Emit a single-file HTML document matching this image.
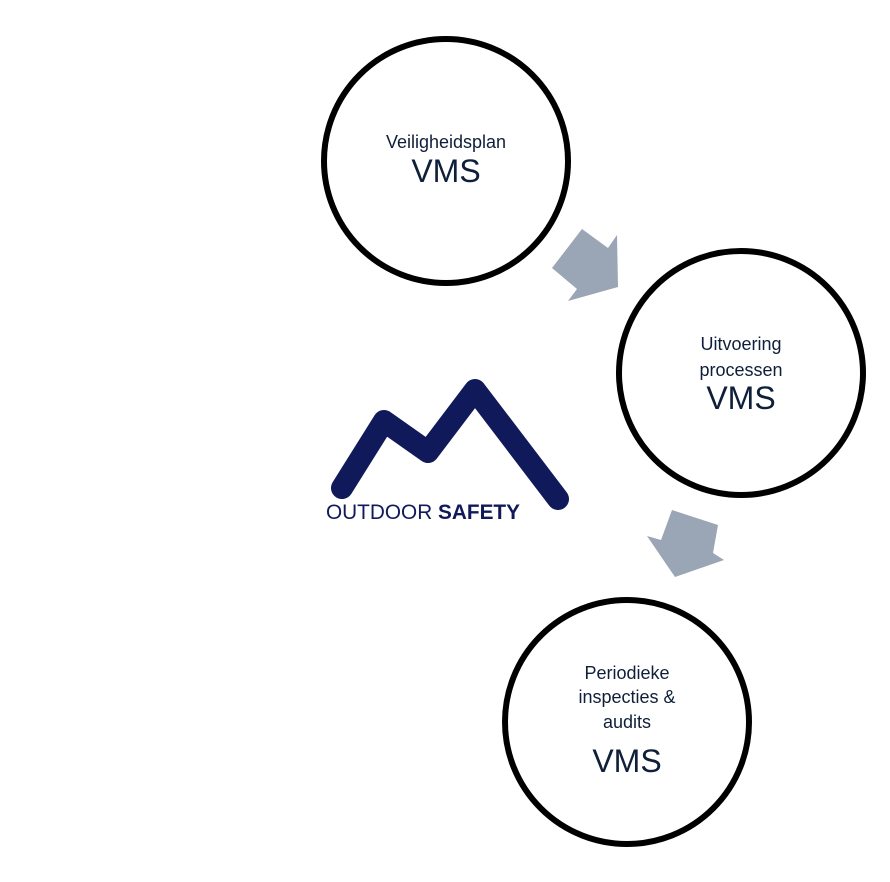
<!DOCTYPE html>
<html><head><meta charset="utf-8"><style>
html,body{margin:0;padding:0;background:#fff;}
body{width:890px;height:877px;overflow:hidden;}
text{font-family:"Liberation Sans",sans-serif;fill:#0f1f3a;}
</style></head><body>
<svg width="890" height="877" viewBox="0 0 890 877" xmlns="http://www.w3.org/2000/svg">
<circle cx="446" cy="161" r="122" fill="#fff" stroke="#000" stroke-width="6"/>
<circle cx="741" cy="373" r="122" fill="#fff" stroke="#000" stroke-width="6"/>
<circle cx="627" cy="722" r="122" fill="#fff" stroke="#000" stroke-width="6"/>
<polygon points="552,268 582,229 608,248 617,235 618,287 568,301 577,289" fill="#9aa6b5"/>
<polygon points="672,510 718,525 713,553 724,560 675,577 647,536 661,540" fill="#9aa6b5"/>
<g text-anchor="middle">
<text x="446" y="148" font-size="18">Veiligheidsplan</text>
<text x="446" y="182" font-size="32">VMS</text>
<text x="741" y="350" font-size="18">Uitvoering</text>
<text x="741" y="376" font-size="18">processen</text>
<text x="741" y="409" font-size="32">VMS</text>
<text x="627" y="679" font-size="18">Periodieke</text>
<text x="627" y="703" font-size="18">inspecties &amp;</text>
<text x="627" y="728" font-size="18">audits</text>
<text x="627" y="772" font-size="32">VMS</text>
</g>
<polyline points="342,488 384,421 428,452 475,390 558,499" fill="none" stroke="#101a5a" stroke-width="22" stroke-linecap="round" stroke-linejoin="round"/>
<text x="326" y="519" font-size="21" textLength="194" lengthAdjust="spacingAndGlyphs" style="fill:#101a5a">OUTDOOR <tspan font-weight="bold">SAFETY</tspan></text>
</svg>
</body></html>
